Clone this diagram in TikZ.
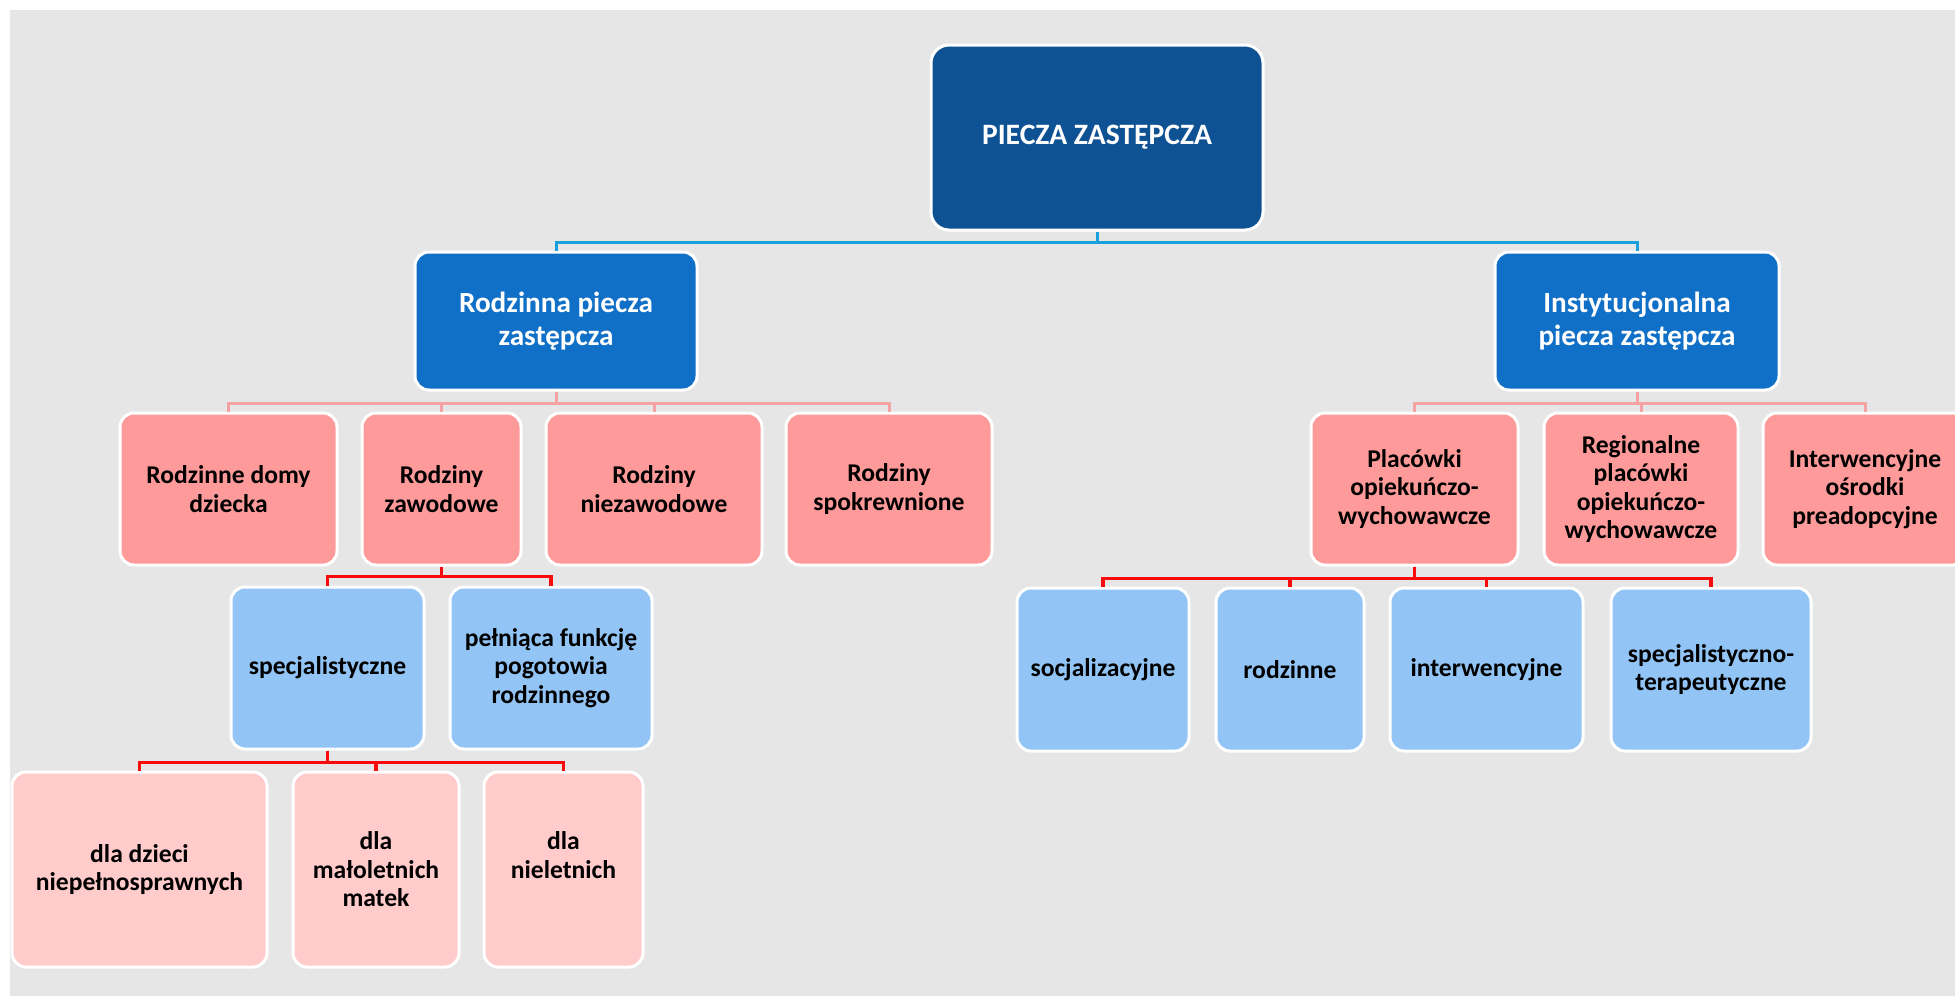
\documentclass[tikz,border=0pt]{standalone}
\usepackage{fontspec}
\setmainfont{Carlito}
\usetikzlibrary{positioning, calc}
\definecolor{bggray}{RGB}{230,230,230}
\definecolor{navyblue}{RGB}{14,82,148}
\definecolor{midblue}{RGB}{16,111,198}
\definecolor{salmon}{RGB}{255,154,154}
\definecolor{skyblue}{RGB}{146,197,245}
\definecolor{palepink}{RGB}{255,203,203}
\definecolor{linkblue}{RGB}{26,160,220}
\definecolor{linkpink}{RGB}{245,162,162}
\definecolor{linkred}{RGB}{250,10,10}

\begin{document}
\begin{tikzpicture}[
	% One unit is one pixel of the layout.
	x=0.5pt, y=-0.5pt
	]
	% Define custom styles to make the code cleaner and more reusable.
	\tikzset{
		box/.style={rectangle, draw=white, line width=1.5pt, rounded corners=7pt, align=center, inner sep=2pt, font=\bfseries\fontsize{12.8}{14.3}\selectfont},
		rootbox/.style={box, fill=navyblue, text=white, rounded corners=9pt, minimum width=166pt, minimum height=92.5pt, font=\bfseries\fontsize{14.8}{16.2}\selectfont},
		mainbox/.style={box, fill=midblue, text=white, minimum height=69pt, font=\bfseries\fontsize{14.6}{16.2}\selectfont},
		catbox/.style={box, fill=salmon, minimum height=76pt},
		subbox/.style={box, fill=skyblue, minimum height=81pt},
		leafbox/.style={box, fill=palepink, minimum height=97.5pt},
		bluelink/.style={draw=linkblue, line width=1.5pt},
		pinklink/.style={draw=linkpink, line width=1.5pt},
		redlink/.style={draw=linkred, line width=1.8pt}
	}
	
	% === BACKGROUND ===
	\useasboundingbox (0,0) rectangle (1955,996);
	\fill[bggray] (10,10) rectangle (1955,996);
	
	% === NODES ===
	% Top of the tree and its two branches.
	\node[rootbox] (root) at (1097,137.5) {PIECZA ZASTĘPCZA};
	\node[mainbox, minimum width=141pt] (rodz) at (556,321) {Rodzinna piecza\\zastępcza};
	\node[mainbox, minimum width=142pt] (inst) at (1637,321) {Instytucjonalna\\piecza zastępcza};
	
	% Family forms of care.
	\node[catbox, minimum width=108.5pt] (domy) at (228.5,489) {Rodzinne domy\\dziecka};
	\node[catbox, minimum width=79.5pt] (zaw) at (441.5,489) {Rodziny\\zawodowe};
	\node[catbox, minimum width=108pt] (niezaw) at (654,489) {Rodziny\\niezawodowe};
	\node[catbox, minimum width=103pt] (spokr) at (889,489) {Rodziny\\spokrewnione};
	
	% Institutional forms of care.
	\node[catbox, minimum width=103.5pt] (plac) at (1414.5,489) {Placówki\\opiekuńczo-\\wychowawcze};
	\node[catbox, minimum width=97pt] (reg) at (1641,489) {Regionalne\\placówki\\opiekuńczo-\\wychowawcze};
	\node[catbox, minimum width=102pt] (osrod) at (1865,489) {Interwencyjne\\ośrodki\\preadopcyjne};
	
	% Kinds of professional families.
	\node[subbox, minimum width=96.5pt] (spec) at (327.5,668) {specjalistyczne};
	\node[subbox, minimum width=101pt] (pogot) at (551,668) {pełniąca funkcję\\pogotowia\\rodzinnego};
	
	% Kinds of care institutions.
	\node[subbox, minimum width=86pt, minimum height=81.5pt] (socj) at (1103,669.5) {socjalizacyjne};
	\node[subbox, minimum width=74pt, minimum height=81.5pt] (rodzin) at (1290,669.5) {rodzinne};
	\node[subbox, minimum width=96.5pt, minimum height=81.5pt] (interw) at (1486.5,669.5) {interwencyjne};
	\node[subbox, minimum width=100pt, minimum height=81.5pt] (terap) at (1711,669.5) {specjalistyczno-\\terapeutyczne};
	
	% Kinds of specialist families.
	\node[leafbox, minimum width=127.5pt] (dzieci) at (139.5,869.5) {dla dzieci\\niepełnosprawnych};
	\node[leafbox, minimum width=83pt] (matki) at (376,869.5) {dla\\małoletnich\\matek};
	\node[leafbox, minimum width=79.5pt] (niel) at (563.5,869.5) {dla\\nieletnich\\\mbox{}};
	
	% === CONNECTIONS ===
	\foreach \kid in {rodz, inst}
		\draw[bluelink] (root.south) -- ++(0,-5.5pt) -| (\kid.north);
	\foreach \kid in {domy, zaw, niezaw, spokr}
		\draw[pinklink] (rodz.south) -- ++(0,-6pt) -| (\kid.north);
	\foreach \kid in {plac, reg, osrod}
		\draw[pinklink] (inst.south) -- ++(0,-6pt) -| (\kid.north);
	\foreach \kid in {spec, pogot}
		\draw[redlink] (zaw.south) -- ++(0,-5pt) -| (\kid.north);
	\foreach \kid in {dzieci, matki, niel}
		\draw[redlink] (spec.south) -- ++(0,-6pt) -| (\kid.north);
	\foreach \kid in {socj, rodzin, interw, terap}
		\draw[redlink] (plac.south) -- ++(0,-6pt) -| (\kid.north);
\end{tikzpicture}
\end{document}
